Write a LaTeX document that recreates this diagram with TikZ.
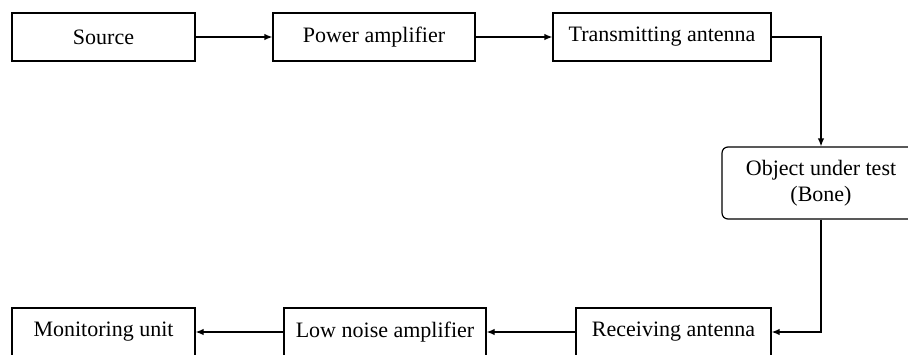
\documentclass[tikz,border=0pt]{standalone}
\usepackage{fontspec}
\setmainfont{Liberation Serif}
\usetikzlibrary{arrows.meta}
\begin{document}
\begin{tikzpicture}
    [x=0.5pt,y=-0.5pt,
    block/.style={draw,line width=0.6pt,minimum height=24pt,inner sep=0pt,
        font=\fontsize{11}{13}\selectfont},
    link/.style={line width=0.6pt,-{Latex[length=4pt,width=3.2pt]}}]
    \useasboundingbox (0,0) rectangle (908,354);
    %top row
    \node[block,minimum width=91.5pt] (source) at (103.5,37) {Source};
    \node[block,minimum width=101pt] (poweramp) at (374,37) {Power amplifier};
    \node[block,minimum width=109pt] (txant) at (662,37) {Transmitting antenna};
    %object
    \node[block,minimum width=99pt,minimum height=36pt,rounded corners=3pt,
        align=center] (object) at (821,183) {Object under test\\(Bone)};
    %bottom row
    \node[block,minimum width=97.5pt] (rxant) at (673.5,332) {Receiving antenna};
    \node[block,minimum width=101pt] (lna) at (385,332) {Low noise amplifier};
    \node[block,minimum width=91.5pt] (monitor) at (103.5,332) {Monitoring unit};
    %arrows
    \draw[link] (source)--(poweramp);
    \draw[link] (poweramp)--(txant);
    \draw[link] (txant.east)-|(object.north);
    \draw[link] (object.south)|-(rxant.east);
    \draw[link] (rxant)--(lna);
    \draw[link] (lna)--(monitor);
\end{tikzpicture}
\end{document}
